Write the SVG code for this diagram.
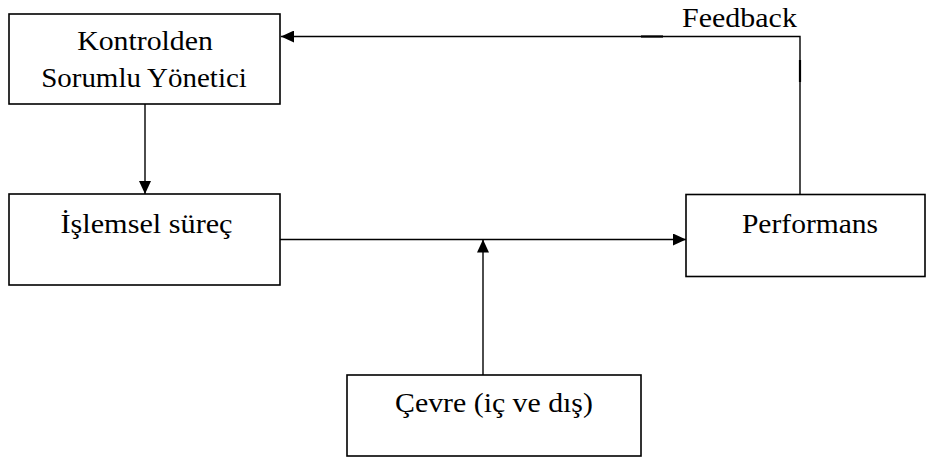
<svg xmlns="http://www.w3.org/2000/svg" width="926" height="457" viewBox="0 0 926 457">
  <defs>
    <marker id="arrow" viewBox="0 0 13 12" refX="13" refY="6" markerWidth="13" markerHeight="12" markerUnits="userSpaceOnUse" orient="auto">
      <path d="M0,0 L13,6 L0,12 Z" fill="#000"/>
    </marker>
  </defs>
  <style>
    .box { fill: #fff; stroke: #000; stroke-width: 1.6; }
    .lbl { font-family: "Liberation Serif", "Times New Roman", serif; font-size: 28px; fill: #000; text-anchor: middle; }
    .conn { fill: none; stroke: #000; stroke-width: 1.4; }
    .seam { fill: none; stroke: #000; stroke-width: 2.2; }
  </style>
  <rect width="926" height="457" fill="#fff"/>

  <g id="connectors">
    <!-- manager down to process -->
    <line class="conn" x1="145" y1="104" x2="145" y2="194" marker-end="url(#arrow)"/>
    <!-- process to performance -->
    <line class="conn" x1="280" y1="239.5" x2="686" y2="239.5" marker-end="url(#arrow)"/>
    <!-- environment up into the process line -->
    <line class="conn" x1="483" y1="375" x2="483" y2="239.5" marker-end="url(#arrow)"/>
    <!-- feedback loop back to manager -->
    <polyline class="conn" points="800,194 800,36.5 281,36.5" marker-end="url(#arrow)"/>
    <line class="seam" x1="641" y1="36.5" x2="663" y2="36.5"/>
    <line class="seam" x1="800" y1="60" x2="800" y2="82"/>
    <text class="lbl" transform="translate(739.5,27) scale(1.07,1)">Feedback</text>
  </g>

  <g id="manager">
    <rect class="box" x="9" y="14" width="271" height="90"/>
    <text class="lbl" transform="translate(145,50) scale(1.065,1)">Kontrolden</text>
    <text class="lbl" transform="translate(144,87) scale(1.035,1)">Sorumlu Yönetici</text>
  </g>

  <g id="process">
    <rect class="box" x="9" y="194" width="271" height="91"/>
    <text class="lbl" transform="translate(146.5,233) scale(1.08,1)">İşlemsel süreç</text>
  </g>

  <g id="performance">
    <rect class="box" x="686" y="194.5" width="239" height="82"/>
    <text class="lbl" transform="translate(810,233) scale(1.055,1)">Performans</text>
  </g>

  <g id="environment">
    <rect class="box" x="347" y="375" width="294" height="81"/>
    <text class="lbl" transform="translate(494,412) scale(1.065,1)">Çevre (iç ve dış)</text>
  </g>
</svg>
